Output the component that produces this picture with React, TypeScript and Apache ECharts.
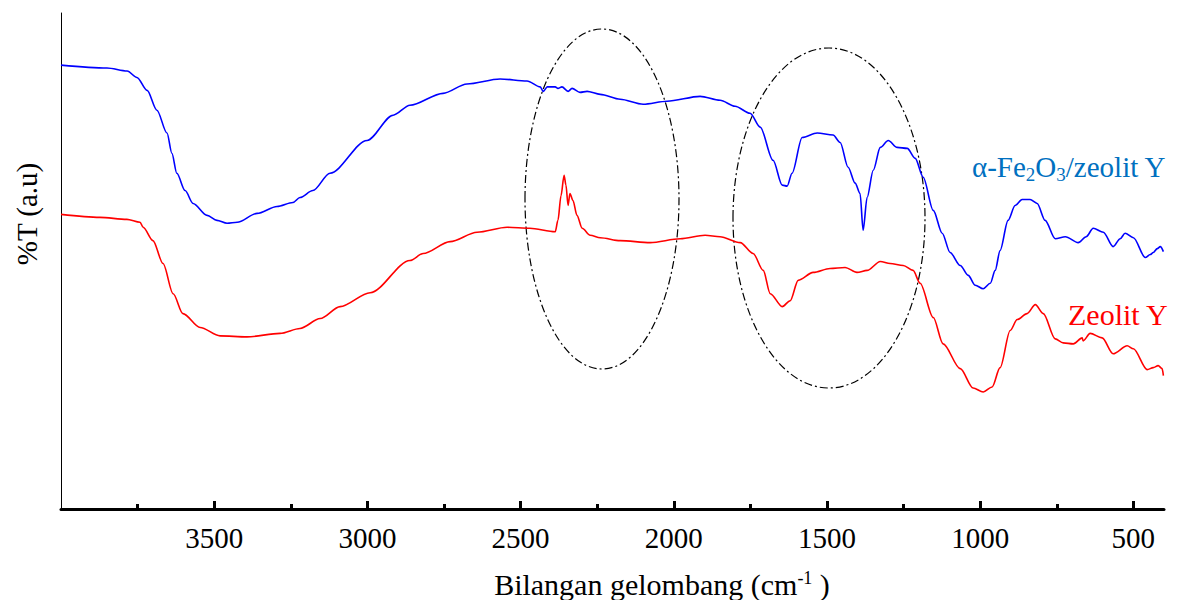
import React, { useEffect, useRef } from "react";
import * as echarts from "echarts";

// Wavenumber (cm-1) and %T (a.u.)
const blueWn = [4000,3850,3784,3752,3719,3687,3654,3638,3622,3595,3569,3523,3491,3458,3425,3360,3295,3243,3220,3178,3122,3001,2916,2861,2753,2675,2567,2479,2436,2426,2413,2387,2378,2365,2345,2332,2306,2283,2240,2175,2100,2022,1914,1849,1800,1751,1718,1676,1646,1630,1614,1581,1532,1480,1457,1431,1408,1392,1382,1369,1349,1326,1300,1271,1238,1212,1186,1153,1124,1098,1065,1039,1016,990,967,951,935,909,886,863,837,814,788,755,722,680,654,631,598,566,543,527,500,461,445,435,422,412,402];
const blueT = [89.5,88.9,88.3,87.0,84.4,80.4,75.8,71.7,67.7,64.2,61.6,59.2,58.2,57.6,57.8,59.6,61.0,61.8,62.8,64.2,67.7,74.3,79.4,81.4,83.8,85.7,86.7,86.3,85.1,84.2,85.1,85.1,84.8,85.1,84.2,84.8,84.0,84.2,83.6,82.6,81.6,82.2,83.2,82.4,81.2,79.8,77.0,70.3,65.3,65.1,67.7,74.9,75.8,75.4,73.9,68.9,65.7,63.6,56.2,62.8,68.3,72.9,74.3,72.9,72.7,70.7,66.9,60.2,55.6,51.7,49.1,47.1,45.1,44.4,45.5,48.1,52.1,58.2,61.2,62.4,62.4,61.6,58.2,54.5,54.9,53.7,54.9,56.6,55.8,52.9,54.5,55.6,54.7,50.7,51.3,51.7,52.5,52.9,51.9];

const redWn = [4000,3873,3785,3742,3732,3700,3667,3634,3602,3546,3481,3393,3285,3220,3154,3089,2991,2861,2818,2730,2642,2544,2470,2387,2378,2368,2358,2352,2345,2339,2329,2316,2299,2273,2240,2175,2077,1979,1898,1849,1783,1741,1708,1685,1646,1620,1594,1545,1490,1441,1402,1369,1326,1294,1251,1219,1196,1153,1121,1065,1023,990,961,935,902,879,847,820,794,755,729,696,667,664,641,602,566,520,500,455,435,419,406,402];
const redT = [59.4,58.8,58.4,57.8,56.8,54.1,49.5,43.4,39.4,36.6,34.9,34.7,35.4,36.4,38.4,40.8,43.6,50.1,51.5,53.9,55.8,56.8,56.6,55.9,58.2,63.2,67.3,65.3,61.2,63.6,62.2,59.2,56.6,55.2,54.7,54.1,53.7,54.5,55.2,54.9,53.7,51.5,48.1,43.4,40.8,42.0,46.1,47.7,48.5,48.7,47.7,48.1,49.9,49.5,49.1,48.1,45.5,38.6,33.3,28.3,24.4,23.6,24.6,28.5,36.0,38.2,39.4,41.2,39.4,34.3,33.5,33.3,34.5,33.9,35.4,34.5,31.3,32.9,32.3,28.1,28.5,28.9,28.3,26.9];

const majorTicks = [4000, 3500, 3000, 2500, 2000, 1500, 1000, 500];
const minorTicks = [3750, 3250, 2750, 2250, 1750, 1250, 750];
const labelStep = 500;

const seriesNames = ["α-Fe2O3/zeolit Y", "Zeolit Y"];

const FONT = "Liberation Serif";

export default function App() {
  const ref = useRef<HTMLDivElement>(null);
  useEffect(() => {
    if (!ref.current) return;
    const chart = echarts.init(ref.current, null, { renderer: "svg" });
    const blueData = blueWn.map((w, i) => [w, blueT[i]]);
    const redData = redWn.map((w, i) => [w, redT[i]]);
    const dash = [8, 3, 2, 3];
    chart.setOption({
      animation: false,
      backgroundColor: "#fff",
      textStyle: { fontFamily: FONT },
      grid: { left: 61, right: 16, top: 13, bottom: 91 },
      xAxis: [
        {
          type: "value",
          min: 400,
          max: 4000,
          interval: 100,
          inverse: true,
          axisLine: { show: true, lineStyle: { color: "#000", width: 3 } },
          axisTick: {
            show: true,
            inside: true,
            length: 8,
            customValues: majorTicks,
            lineStyle: { color: "#000", width: 3 },
          },
          axisLabel: {
            show: true,
            showMinLabel: true,
            showMaxLabel: false,
            hideOverlap: false,
            interval: 0,
            formatter: (v: number) =>
              v % labelStep === 0 && v < 4000 ? `{t|${v}}` : "",
            color: "#000",
            fontFamily: FONT,
            fontSize: 29,
            margin: 14,
            rich: {
              t: { fontFamily: FONT, fontSize: 29, color: "#000" },
            },
          },
          splitLine: { show: false },
        },
        {
          type: "value",
          min: 400,
          max: 4000,
          inverse: true,
          position: "bottom",
          axisLine: { show: true, lineStyle: { color: "rgba(0,0,0,0)", width: 0 } },
          axisTick: {
            show: true,
            inside: true,
            length: 5,
            customValues: minorTicks,
            lineStyle: { color: "#000", width: 3 },
          },
          axisLabel: { show: false },
          splitLine: { show: false },
        },
      ],
      yAxis: {
        type: "value",
        min: 0,
        max: 100,
        axisLine: { show: true, lineStyle: { color: "#000", width: 1 } },
        axisTick: { show: false },
        axisLabel: { show: false },
        splitLine: { show: false },
      },
      series: [
        {
          name: seriesNames[0],
          type: "line",
          xAxisIndex: 0,
          data: blueData,
          showSymbol: false,
          smooth: 0.3,
          smoothMonotone: "x",
          lineStyle: { color: "#0000ff", width: 1.6 },
          itemStyle: { color: "#0000ff" },
        },
        {
          name: seriesNames[1],
          type: "line",
          xAxisIndex: 0,
          data: redData,
          showSymbol: false,
          smooth: 0.3,
          smoothMonotone: "x",
          lineStyle: { color: "#ff0000", width: 1.6 },
          itemStyle: { color: "#ff0000" },
        },
      ],
      graphic: [
        {
          type: "ellipse",
          shape: { cx: 602, cy: 199, rx: 77, ry: 170 },
          style: { fill: "none", stroke: "#000", lineWidth: 1.2, lineDash: dash },
          silent: true,
        },
        {
          type: "ellipse",
          shape: { cx: 829, cy: 218, rx: 96, ry: 170 },
          style: { fill: "none", stroke: "#000", lineWidth: 1.2, lineDash: dash },
          silent: true,
        },
        {
          type: "text",
          x: 972,
          y: 167,
          style: {
            text: "{a|α-Fe}{s|2}{a|O}{s|3}{a|/zeolit Y}",
            fill: "#0070C0",
            verticalAlign: "middle",
            align: "left",
            rich: {
              a: { fontFamily: FONT, fontSize: 29, fill: "#0070C0" },
              s: { fontFamily: FONT, fontSize: 19, fill: "#0070C0", padding: [14, 0, 0, 0] },
            },
          },
        },
        {
          type: "text",
          x: 1068,
          y: 314,
          style: {
            text: "Zeolit Y",
            fill: "#ff0000",
            font: `30px ${FONT}`,
            verticalAlign: "middle",
            align: "left",
          },
        },
        {
          type: "text",
          x: 662,
          y: 584,
          style: {
            text: "{a|Bilangan gelombang (cm}{s|-1}{a| )}",
            fill: "#000",
            verticalAlign: "middle",
            align: "center",
            rich: {
              a: { fontFamily: FONT, fontSize: 30, fill: "#000" },
              s: { fontFamily: FONT, fontSize: 18, fill: "#000", padding: [0, 0, 12, 0] },
            },
          },
        },
        {
          type: "text",
          x: 27,
          y: 214,
          rotation: Math.PI / 2,
          style: {
            text: "%T (a.u)",
            fill: "#000",
            font: `29px ${FONT}`,
            verticalAlign: "middle",
            align: "center",
          },
        },
      ],
    });
    return () => chart.dispose();
  }, []);
  return (
    <div
      ref={ref}
      style={{ position: "absolute", left: 0, top: 0, width: 1180, height: 600 }}
    />
  );
}
